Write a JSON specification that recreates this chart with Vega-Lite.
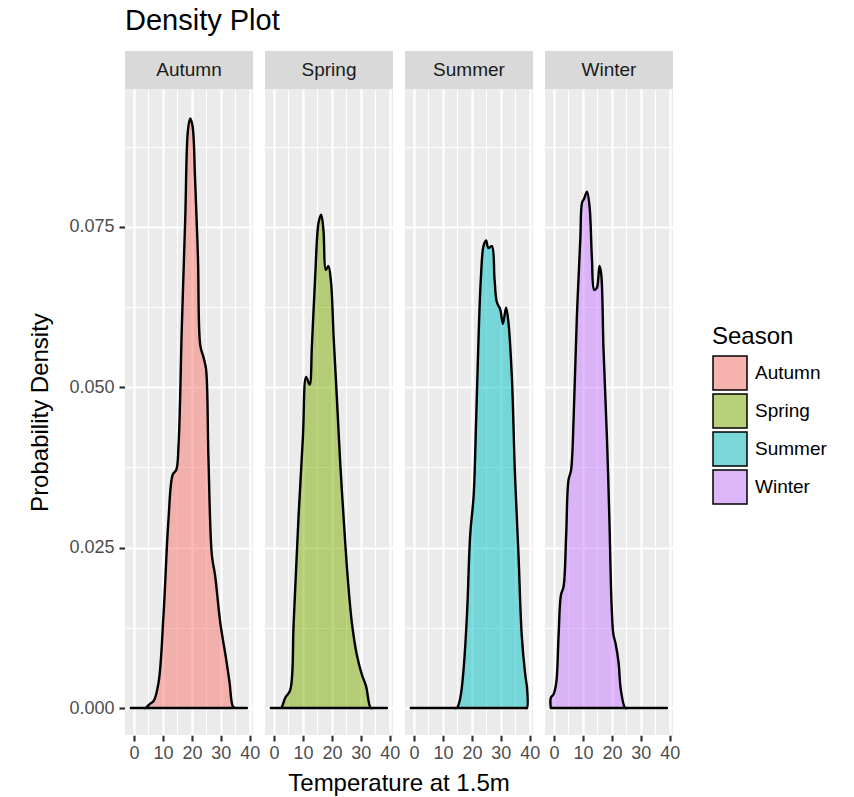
{
  "$schema": "https://vega.github.io/schema/vega-lite/v6.json",
  "background": "white",
  "padding": {"left": 28, "top": 6, "right": 5, "bottom": 0},
  "title": {"text": "Density Plot", "anchor": "start", "fontSize": 29, "font": "Liberation Sans", "fontWeight": "normal", "color": "black", "frame": "group", "offset": 15},
  "data": {"values": [
    {"Season":"Autumn","Temperature":-1.1,"Density":0},
    {"Season":"Autumn","Temperature":3.0,"Density":0},
    {"Season":"Autumn","Temperature":3.9,"Density":0},
    {"Season":"Autumn","Temperature":5.6,"Density":0.0007},
    {"Season":"Autumn","Temperature":6.8,"Density":0.0011},
    {"Season":"Autumn","Temperature":8.5,"Density":0.004},
    {"Season":"Autumn","Temperature":10.2,"Density":0.0145},
    {"Season":"Autumn","Temperature":11.9,"Density":0.0293},
    {"Season":"Autumn","Temperature":13.4,"Density":0.0364},
    {"Season":"Autumn","Temperature":14.6,"Density":0.0371},
    {"Season":"Autumn","Temperature":15.4,"Density":0.0411},
    {"Season":"Autumn","Temperature":16.5,"Density":0.059},
    {"Season":"Autumn","Temperature":17.7,"Density":0.0763},
    {"Season":"Autumn","Temperature":18.6,"Density":0.0899},
    {"Season":"Autumn","Temperature":19.4,"Density":0.0919},
    {"Season":"Autumn","Temperature":20.2,"Density":0.0908},
    {"Season":"Autumn","Temperature":21.1,"Density":0.0825},
    {"Season":"Autumn","Temperature":22.1,"Density":0.0701},
    {"Season":"Autumn","Temperature":22.9,"Density":0.0565},
    {"Season":"Autumn","Temperature":24.0,"Density":0.0547},
    {"Season":"Autumn","Temperature":24.9,"Density":0.0528},
    {"Season":"Autumn","Temperature":25.7,"Density":0.0392},
    {"Season":"Autumn","Temperature":26.9,"Density":0.0238},
    {"Season":"Autumn","Temperature":28.0,"Density":0.0207},
    {"Season":"Autumn","Temperature":29.8,"Density":0.0133},
    {"Season":"Autumn","Temperature":31.8,"Density":0.0077},
    {"Season":"Autumn","Temperature":33.0,"Density":0.004},
    {"Season":"Autumn","Temperature":34.1,"Density":0.0003},
    {"Season":"Autumn","Temperature":34.9,"Density":0},
    {"Season":"Autumn","Temperature":35.8,"Density":0},
    {"Season":"Autumn","Temperature":39.0,"Density":0},
    {"Season":"Spring","Temperature":-1.1,"Density":0},
    {"Season":"Spring","Temperature":1.5,"Density":0},
    {"Season":"Spring","Temperature":2.4,"Density":0},
    {"Season":"Spring","Temperature":3.9,"Density":0.0016},
    {"Season":"Spring","Temperature":5.6,"Density":0.0028},
    {"Season":"Spring","Temperature":6.8,"Density":0.0133},
    {"Season":"Spring","Temperature":8.5,"Density":0.03},
    {"Season":"Spring","Temperature":10.0,"Density":0.0423},
    {"Season":"Spring","Temperature":11.1,"Density":0.0516},
    {"Season":"Spring","Temperature":12.3,"Density":0.0504},
    {"Season":"Spring","Temperature":13.1,"Density":0.0565},
    {"Season":"Spring","Temperature":14.2,"Density":0.067},
    {"Season":"Spring","Temperature":15.4,"Density":0.0757},
    {"Season":"Spring","Temperature":16.3,"Density":0.0769},
    {"Season":"Spring","Temperature":17.1,"Density":0.0744},
    {"Season":"Spring","Temperature":17.9,"Density":0.0683},
    {"Season":"Spring","Temperature":18.8,"Density":0.0689},
    {"Season":"Spring","Temperature":19.7,"Density":0.0664},
    {"Season":"Spring","Temperature":20.6,"Density":0.0578},
    {"Season":"Spring","Temperature":21.7,"Density":0.0485},
    {"Season":"Spring","Temperature":22.9,"Density":0.038},
    {"Season":"Spring","Temperature":24.0,"Density":0.03},
    {"Season":"Spring","Temperature":25.4,"Density":0.0207},
    {"Season":"Spring","Temperature":26.9,"Density":0.0133},
    {"Season":"Spring","Temperature":28.6,"Density":0.0083},
    {"Season":"Spring","Temperature":30.3,"Density":0.0053},
    {"Season":"Spring","Temperature":31.8,"Density":0.0034},
    {"Season":"Spring","Temperature":33.4,"Density":0},
    {"Season":"Spring","Temperature":34.3,"Density":0},
    {"Season":"Spring","Temperature":39.0,"Density":0},
    {"Season":"Summer","Temperature":-1.1,"Density":0},
    {"Season":"Summer","Temperature":13.8,"Density":0},
    {"Season":"Summer","Temperature":14.8,"Density":0},
    {"Season":"Summer","Temperature":16.0,"Density":0.0016},
    {"Season":"Summer","Temperature":17.1,"Density":0.0059},
    {"Season":"Summer","Temperature":18.3,"Density":0.0145},
    {"Season":"Summer","Temperature":19.4,"Density":0.0269},
    {"Season":"Summer","Temperature":20.6,"Density":0.0331},
    {"Season":"Summer","Temperature":21.5,"Density":0.0454},
    {"Season":"Summer","Temperature":22.3,"Density":0.0578},
    {"Season":"Summer","Temperature":23.1,"Density":0.067},
    {"Season":"Summer","Temperature":24.0,"Density":0.072},
    {"Season":"Summer","Temperature":24.9,"Density":0.0729},
    {"Season":"Summer","Temperature":25.7,"Density":0.0717},
    {"Season":"Summer","Temperature":26.9,"Density":0.072},
    {"Season":"Summer","Temperature":27.8,"Density":0.067},
    {"Season":"Summer","Temperature":28.6,"Density":0.0633},
    {"Season":"Summer","Temperature":29.8,"Density":0.0621},
    {"Season":"Summer","Temperature":30.7,"Density":0.0599},
    {"Season":"Summer","Temperature":31.8,"Density":0.0624},
    {"Season":"Summer","Temperature":32.6,"Density":0.0602},
    {"Season":"Summer","Temperature":33.8,"Density":0.0516},
    {"Season":"Summer","Temperature":34.9,"Density":0.0361},
    {"Season":"Summer","Temperature":36.1,"Density":0.0238},
    {"Season":"Summer","Temperature":37.2,"Density":0.0114},
    {"Season":"Summer","Temperature":38.4,"Density":0.0053},
    {"Season":"Summer","Temperature":39.0,"Density":0.0034},
    {"Season":"Summer","Temperature":39.0,"Density":0},
    {"Season":"Winter","Temperature":-1.1,"Density":0},
    {"Season":"Winter","Temperature":-1.1,"Density":0.0016},
    {"Season":"Winter","Temperature":-0.1,"Density":0.0022},
    {"Season":"Winter","Temperature":0.8,"Density":0.004},
    {"Season":"Winter","Temperature":1.6,"Density":0.0114},
    {"Season":"Winter","Temperature":2.4,"Density":0.0176},
    {"Season":"Winter","Temperature":3.3,"Density":0.0189},
    {"Season":"Winter","Temperature":4.2,"Density":0.0269},
    {"Season":"Winter","Temperature":5.0,"Density":0.0355},
    {"Season":"Winter","Temperature":5.9,"Density":0.0371},
    {"Season":"Winter","Temperature":6.8,"Density":0.0454},
    {"Season":"Winter","Temperature":7.9,"Density":0.0609},
    {"Season":"Winter","Temperature":9.1,"Density":0.0732},
    {"Season":"Winter","Temperature":9.7,"Density":0.0788},
    {"Season":"Winter","Temperature":10.4,"Density":0.0794},
    {"Season":"Winter","Temperature":11.4,"Density":0.0805},
    {"Season":"Winter","Temperature":12.3,"Density":0.0781},
    {"Season":"Winter","Temperature":13.1,"Density":0.0701},
    {"Season":"Winter","Temperature":13.9,"Density":0.0652},
    {"Season":"Winter","Temperature":14.8,"Density":0.0655},
    {"Season":"Winter","Temperature":15.7,"Density":0.0689},
    {"Season":"Winter","Temperature":16.3,"Density":0.0677},
    {"Season":"Winter","Temperature":17.1,"Density":0.056},
    {"Season":"Winter","Temperature":18.3,"Density":0.042},
    {"Season":"Winter","Temperature":19.1,"Density":0.03},
    {"Season":"Winter","Temperature":19.9,"Density":0.016},
    {"Season":"Winter","Temperature":20.5,"Density":0.0115},
    {"Season":"Winter","Temperature":21.3,"Density":0.01},
    {"Season":"Winter","Temperature":22.3,"Density":0.0071},
    {"Season":"Winter","Temperature":23.1,"Density":0.0028},
    {"Season":"Winter","Temperature":24.6,"Density":0},
    {"Season":"Winter","Temperature":25.5,"Density":0},
    {"Season":"Winter","Temperature":39.0,"Density":0}
  ]},
  "facet": {
    "column": {
      "field": "Season",
      "type": "nominal",
      "title": "Temperature at 1.5m",
      "header": {"labels": false, "titleOrient": "bottom", "titleFontSize": 24, "titleFont": "Liberation Sans", "titleFontWeight": "normal", "titleColor": "black", "titlePadding": 0, "labelPadding": 0}
    }
  },
  "spacing": 12,
  "spec": {
    "width": 128,
    "height": 646,
    "layer": [
      {
        "mark": {"type": "area", "stroke": "black", "strokeWidth": 2.4, "fillOpacity": 0.5, "strokeJoin": "round", "interpolate": "catmull-rom"},
        "encoding": {
          "x": {"field": "Temperature", "type": "quantitative",
                "scale": {"domain": [-3.1, 41.1], "nice": false, "zero": false},
                "axis": {"title": null, "values": [0,5,10,15,20,25,30,35,40], "tickCount": 20, "labelOverlap": false, "labelFlush": false, "labelPadding": 3, "labelFontSize": 18,
                         "labelExpr": "abs(datum.value/10 - round(datum.value/10)) < 0.01 ? format(datum.value, 'd') : ''",
                         "tickOpacity": {"condition": {"test": "abs(datum.value/10 - round(datum.value/10)) < 0.01", "value": 1}, "value": 0},
                         "gridWidth": {"condition": {"test": "abs(datum.value/10 - round(datum.value/10)) < 0.01", "value": 2.2}, "value": 1.1}}},
          "y": {"field": "Density", "type": "quantitative",
                "scale": {"domain": [-0.0042, 0.0965], "nice": false, "zero": false},
                "axis": {"title": "Probability Density", "values": [0,0.0125,0.025,0.0375,0.05,0.0625,0.075,0.0875], "tickCount": 20, "labelOverlap": false,
                         "labelExpr": "abs(datum.value*40 - round(datum.value*40)) < 0.01 ? format(datum.value, '.3f') : ''",
                         "tickOpacity": {"condition": {"test": "abs(datum.value*40 - round(datum.value*40)) < 0.01", "value": 1}, "value": 0},
                         "gridWidth": {"condition": {"test": "abs(datum.value*40 - round(datum.value*40)) < 0.01", "value": 2.2}, "value": 1.1}}},
          "fill": {"field": "Season", "type": "nominal",
                   "scale": {"range": ["#F8766D", "#7CAE00", "#00BFC4", "#C77CFF"]},
                   "legend": null}
        }
      },
      {
        "mark": {"type": "area", "fillOpacity": 0, "strokeOpacity": 0},
        "encoding": {
          "x": {"field": "Temperature", "type": "quantitative"},
          "y": {"field": "Density", "type": "quantitative"},
          "color": {"field": "Season", "type": "nominal",
                   "scale": {"range": ["#F4B3AE", "#B8D07A", "#79D7DA", "#DCB6F8"]},
                   "legend": {"title": "Season", "orient": "none", "legendX": 587, "legendY": 236}}
        }
      },
      {
        "transform": [{"aggregate": [{"op": "count", "as": "n"}], "groupby": ["Season"]}],
        "mark": {"type": "rect", "fill": "#D9D9D9"},
        "encoding": {
          "x": {"datum": -3.1},
          "x2": {"datum": 41.1},
          "y": {"datum": 0.0965},
          "y2": {"datum": 0.10243}
        }
      },
      {
        "transform": [{"aggregate": [{"op": "count", "as": "n"}], "groupby": ["Season"]}],
        "mark": {"type": "text", "fontSize": 19, "font": "Liberation Sans", "color": "#1A1A1A", "baseline": "middle", "align": "center"},
        "encoding": {
          "x": {"datum": 19.0},
          "y": {"datum": 0.09947},
          "text": {"field": "Season", "type": "nominal"}
        }
      }
    ]
  },
  "config": {
    "font": "Liberation Sans",
    "view": {"fill": "#EBEBEB", "stroke": null},
    "axis": {
      "domain": false,
      "gridColor": "white",
      "tickColor": "#333333",
      "tickWidth": 2.2,
      "tickSize": 6,
      "labelFont": "Liberation Sans",
      "labelFontSize": 18,
      "labelColor": "#4D4D4D",
      "labelPadding": 5,
      "labelOverlap": false,
      "titleFont": "Liberation Sans",
      "titleFontSize": 24,
      "titleFontWeight": "normal",
      "titleColor": "black",
      "titlePadding": 16
    },
    "legend": {
      "titleFont": "Liberation Sans",
      "titleFontSize": 24,
      "titleFontWeight": "normal",
      "titleColor": "black",
      "titlePadding": 6,
      "labelFont": "Liberation Sans",
      "labelFontSize": 19,
      "labelColor": "black",
      "symbolType": "square",
      "symbolSize": 1156,
      "symbolStrokeColor": "black",
      "symbolStrokeWidth": 1.5,
      "rowPadding": -3,
      "labelOffset": 7
    }
  }
}
